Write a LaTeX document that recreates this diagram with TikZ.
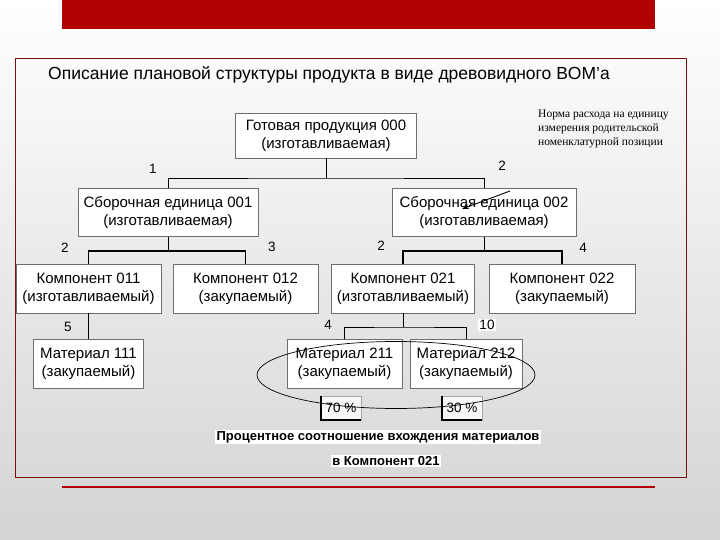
\documentclass[tikz,border=0pt]{standalone}
\usepackage{fontspec}
\setmainfont{Liberation Sans}
\newfontfamily\serifnote{Liberation Serif}
\usetikzlibrary{arrows.meta}
\definecolor{bannerred}{HTML}{B00000}
\definecolor{framered}{HTML}{7A1010}
\definecolor{bggray}{HTML}{D4D4D4}
\definecolor{boxline}{HTML}{6E6E6E}
\begin{document}
\begin{tikzpicture}[x=1pt,y=-1pt,
  bomitem/.style={draw=boxline, fill=white, line width=0.8pt, minimum height=48pt, inner sep=0pt, align=center, font=\fontsize{15}{18}\selectfont},
  qty/.style={font=\fontsize{13.5}{15}\selectfont, inner sep=1pt},
  link/.style={line width=0.8pt},
  boldlink/.style={line width=1.6pt},
  pctbox/.style={draw=gray!70, fill=gray!6, minimum width=40pt, minimum height=24pt, inner sep=0pt, font=\fontsize{13.5}{15}\selectfont},
  capt/.style={fill=white, inner sep=1.5pt, font=\bfseries\fontsize{13}{15}\selectfont}
]
\useasboundingbox (0,0) rectangle (720,540);
\shade[top color=white, middle color=gray!10, bottom color=bggray] (0,0) rectangle (720,540);
% banner and frame
\fill[bannerred] (62,0) rectangle (655,29);
\draw[framered, line width=0.8pt] (15,58) rectangle (686,477);
\draw[bannerred, line width=2pt] (62,487) -- (655,487);
% title
\node[anchor=west, font=\fontsize{17.5}{20}\selectfont, inner sep=0pt] (title) at (48,75) {Описание плановой структуры продукта в виде древовидного BOM'a};
% note
\node[anchor=north west, align=left, inner sep=0pt, font=\serifnote\fontsize{11.5}{14}\selectfont] (note) at (538,110) {Норма расхода на единицу\\измерения родительской\\номенклатурной позиции};
% boxes
\node[bomitem, minimum width=181pt, minimum height=45pt] (A) at (326,135.5) {Готовая продукция 000\\(изготавливаемая)};
\node[bomitem, minimum width=180pt, minimum height=48pt] (B1) at (168,212.5) {Сборочная единица 001\\(изготавливаемая)};
\node[bomitem, minimum width=184pt, minimum height=48pt] (B2) at (484,212.5) {Сборочная единица 002\\(изготавливаемая)};
\node[bomitem, minimum width=145pt, minimum height=49pt] (C11) at (88.5,288.5) {Компонент 011\\(изготавливаемый)};
\node[bomitem, minimum width=145pt, minimum height=49pt] (C12) at (245.5,288.5) {Компонент 012\\(закупаемый)};
\node[bomitem, minimum width=143pt, minimum height=49pt] (C21) at (403,288.5) {Компонент 021\\(изготавливаемый)};
\node[bomitem, minimum width=146pt, minimum height=49pt] (C22) at (562,288.5) {Компонент 022\\(закупаемый)};
\node[bomitem, minimum width=110pt, minimum height=49pt] (M111) at (88.5,363.5) {Материал 111\\(закупаемый)};
\node[bomitem, minimum width=115pt, minimum height=49pt] (M211) at (344.5,363.5) {Материал 211\\(закупаемый)};
\node[bomitem, minimum width=112pt, minimum height=49pt] (M212) at (466,363.5) {Материал 212\\(закупаемый)};
% junctions
\coordinate (jA) at (326,178);
\coordinate (jB1) at (168,251);
\coordinate (jB2) at (484,251);
\coordinate (jC21) at (403,327);
% connectors
\draw[link] (A.south) -- (jA);
\draw[link] (B1.north) |- (jA) -| (B2.north);
\draw[link] (B1.south) -- (jB1);
\draw[boldlink] (C11.north) |- (jB1) -| (C12.north);
\draw[link] (B2.south) -- (jB2);
\draw[boldlink] (C21.north) |- (jB2) -| (C22.north);
\draw[link] (C11.south) -- (M111.north);
\draw[link] (C21.south) -- (jC21);
\draw[link] (M211.north) |- (jC21) -| (M212.north);
% quantities
\node[qty] (q1) at (153,169) {1};
\node[qty] (q2) at (502,166) {2};
\node[qty] (q3) at (65,248) {2};
\node[qty] (q4) at (272,247) {3};
\node[qty] (q5) at (381,246) {2};
\node[qty] (q6) at (583,248) {4};
\node[qty] (q7) at (68,327) {5};
\node[qty] (q8) at (328,325) {4};
\node[qty, fill=white] (q9) at (487,325) {10};
% pointer arrow
\coordinate (ptrS) at (510,191);
\coordinate (ptrE) at (462,209);
\draw[line width=0.9pt, -{Stealth[length=7pt,width=5pt]}] (ptrS) -- (ptrE);
% percentage boxes
\node[pctbox] (p70) at (341,408) {70 \%};
\node[pctbox] (p30) at (462,408) {30 \%};
\draw[line width=2.4pt] (p70.north west) -- (p70.south west) -- (p70.south east);
\draw[line width=2.4pt] (p30.north west) -- (p30.south west) -- (p30.south east);
% captions
\node[capt] (cap1) at (378,437) {Процентное соотношение вхождения материалов};
\node[capt] (cap2) at (386,461) {в Компонент 021};
% ellipse
\draw[line width=0.7pt] (396,375) ellipse [x radius=139, y radius=33.5];
\end{tikzpicture}
\end{document}
